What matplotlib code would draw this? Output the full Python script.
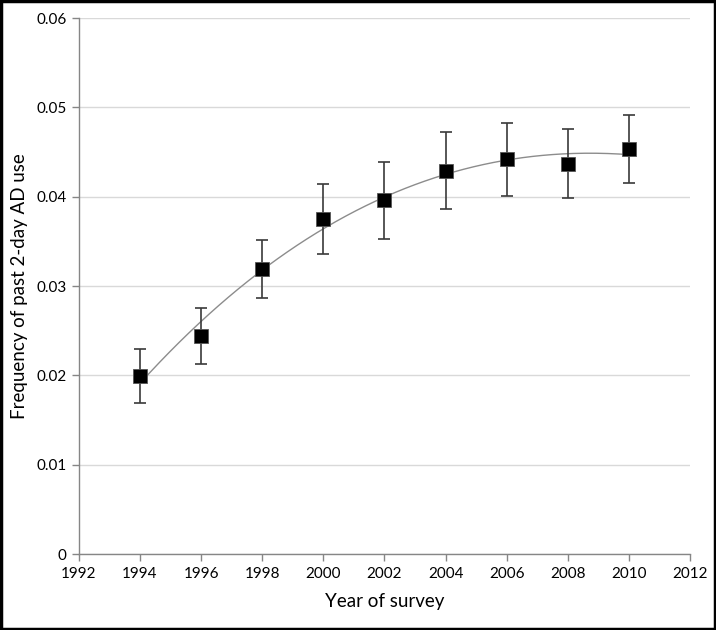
import matplotlib
matplotlib.use("Agg")
import matplotlib.pyplot as plt
import numpy as np
from matplotlib.patches import Rectangle
from matplotlib.ticker import FuncFormatter

years = [1994, 1996, 1998, 2000, 2002, 2004, 2006, 2008, 2010]
freq = [0.0199, 0.0244, 0.0319, 0.0375, 0.0396, 0.0429, 0.0442, 0.0437, 0.0453]
err = [0.0030, 0.0031, 0.0032, 0.0039, 0.0043, 0.0043, 0.0041, 0.0039, 0.0038]

plt.rcParams['font.family'] = ['Lato', 'DejaVu Sans']

fig = plt.figure(figsize=(7.16, 6.30), dpi=100)
ax = fig.add_axes([0.110, 0.1206, 0.854, 0.8508])

# cubic trendline, like the spreadsheet one
coef = np.polyfit(np.array(years) - 2000, freq, 3)
xs = np.linspace(years[0], years[-1], 300)
ax.plot(xs, np.polyval(coef, xs - 2000), color='#8c8c8c', linewidth=1.0, zorder=2)

ax.errorbar(years, freq, yerr=err, fmt='none', ecolor='#3a3a3a',
            elinewidth=1.2, capsize=4, capthick=1.2, zorder=3)
ax.plot(years, freq, linestyle='none', marker='s', markersize=10,
        markerfacecolor='black', markeredgecolor='#555555', markeredgewidth=0.6, zorder=4)

ax.set_xlim(1992, 2012)
ax.set_ylim(0, 0.06)
ax.set_xticks(range(1992, 2013, 2))
ax.set_yticks(np.arange(0, 0.061, 0.01))
ax.yaxis.set_major_formatter(FuncFormatter(lambda v, p: f"{v:.2f}".rstrip('0').rstrip('.') if v else "0"))

ax.grid(axis='y', color='#d9d9d9', linewidth=1.0)
ax.set_axisbelow(True)
for side in ['top', 'right']:
    ax.spines[side].set_visible(False)
for side in ['left', 'bottom']:
    ax.spines[side].set_color('#868686')
    ax.spines[side].set_linewidth(1.0)
ax.tick_params(axis='both', colors='#868686', labelcolor='black', length=5,
               width=1.0, labelsize=11, pad=4)

ax.set_xlabel('Year of survey', fontsize=13.5, labelpad=9)
ax.set_ylabel('Frequency of past 2-day AD use', fontsize=13.5, labelpad=6)

fig.patches.append(Rectangle((0.002, 0.002), 0.996, 0.996, transform=fig.transFigure,
                             fill=False, edgecolor='black', linewidth=2.5))

fig.savefig('out.png', dpi=100)
